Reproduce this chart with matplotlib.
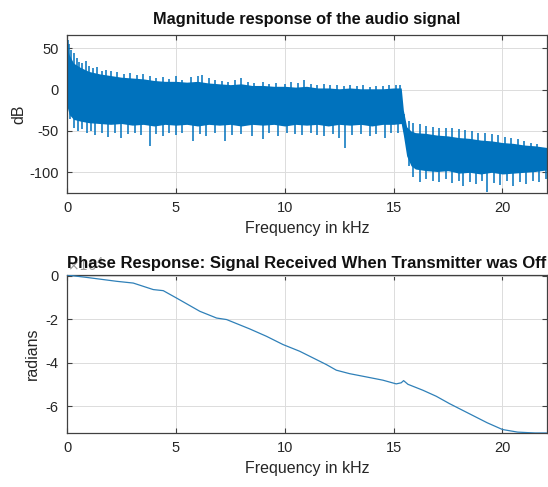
import numpy as np
import matplotlib
matplotlib.use("Agg")
import matplotlib.pyplot as plt
from matplotlib.ticker import FuncFormatter

plt.rcParams['font.family'] = ['Liberation Sans', 'DejaVu Sans']
plt.rcParams['axes.unicode_minus'] = False

# ---------------- data ----------------
# Magnitude response: dense band (core) plus visible spikes
core_f   = [0, 0.1, 0.3, 0.6, 1, 1.5, 2, 2.5, 3, 3.5, 4, 4.5, 5, 5.5, 6, 6.5, 7,
            7.5, 8, 8.5, 9, 9.5, 10, 10.5, 11, 11.5, 12, 12.5, 13, 13.5, 14,
            14.5, 15, 15.35, 15.45, 15.6, 15.8, 16.0, 16.5, 17, 17.5, 18, 18.5,
            19, 19.5, 20, 20.5, 21, 21.5, 22.05]
core_top = [52, 42, 32, 27, 22, 19, 17, 15, 14, 13, 11, 10, 10, 9, 10, 8, 7,
            6, 7, 5, 5, 4, 4, 3, 4, 2, 2, 1, 2, 1, 1,
            1, 2, 2, -25, -45, -50, -52, -53, -55, -56, -58, -59,
            -61, -62, -64, -65, -67, -68, -70]
core_bot = [-20, -30, -36, -38, -40, -41, -42, -41, -43, -42, -44, -42, -43,
            -42, -44, -42, -43, -42, -44, -42, -43, -42, -44, -42, -43, -42,
            -44, -42, -43, -42, -44, -42, -42, -41, -55, -80, -92, -96, -98,
            -99, -98, -101, -100, -102, -100, -102, -101, -100, -99, -97]

up_f = [0.02, 0.05, 0.1, 0.2, 0.3, 0.45, 0.55, 0.7, 0.85, 1.0,
        1.2, 1.4, 1.6, 1.8, 2.0, 2.3, 2.6, 2.9, 3.2, 3.5, 3.8, 4.1, 4.4, 4.7, 5.0,
        5.3, 5.7, 6.0, 6.2, 6.5, 6.8, 7.1, 7.4, 7.7, 8.0, 8.3, 8.6, 9.0, 9.3, 9.6, 10.0,
        10.3, 10.6, 10.9, 11.2, 11.5, 11.8, 12.1, 12.4, 12.7, 13.0, 13.3, 13.6, 13.9,
        14.2, 14.5, 14.8, 15.1, 15.3,
        15.5, 15.7, 15.9, 16.2, 16.5, 16.8, 17.1, 17.4, 17.7, 18.0, 18.3, 18.6, 18.9,
        19.2, 19.5, 19.8, 20.1, 20.4, 20.7, 21.0, 21.3, 21.6, 21.9]
up_v = [66, 60, 55, 48, 44, 38, 33, 32, 34, 28,
        26, 27, 23, 24, 22, 21, 19, 20, 18, 19, 16, 14, 15, 13, 16,
        12, 15, 17, 18, 14, 12, 11, 9, 12, 14, 9, 8, 9, 7, 8, 7,
        9, 8, 12, 7, 6, 7, 5, 6, 4, 5, 4, 5, 3,
        4, 4, 5, 6, 5,
        -30, -38, -40, -42, -44, -45, -46, -47, -46, -48, -49, -50, -52,
        -52, -54, -55, -57, -58, -60, -62, -64, -66, -70]

dn_f = [0.15, 0.3, 0.5, 0.7, 0.9, 1.1, 1.3, 1.6, 1.9, 2.2, 2.5, 2.8, 3.1, 3.4, 3.8,
        4.1, 4.4, 4.7, 5.0,
        5.3, 5.8, 6.1, 6.4, 6.8, 7.25, 7.6, 8.0, 8.5, 9.0, 9.3, 9.7, 10.1, 10.45,
        10.8, 11.2, 11.5, 11.8, 12.2, 12.5, 12.75, 13.1, 13.5, 13.9, 14.2, 14.6,
        14.9, 15.2,
        15.7, 15.9, 16.2, 16.5, 16.8, 17.1, 17.4, 17.7, 18.0, 18.2, 18.5, 18.8,
        19.05, 19.3, 19.6, 19.9, 20.2, 20.5, 20.8, 21.1, 21.4, 21.7, 22.0]
dn_v = [-35, -46, -50, -48, -53, -50, -55, -52, -57, -52, -58, -54, -52, -55, -68,
        -54, -56, -52, -55,
        -53, -62, -54, -56, -53, -62, -55, -54, -56, -60, -53, -56, -52, -54,
        -55, -53, -55, -56, -54, -58, -70, -55, -54, -56, -54, -58,
        -53, -52,
        -92, -106, -112, -108, -110, -112, -108, -113, -110, -117, -112, -114,
        -110, -124, -113, -115, -111, -116, -112, -114, -110, -112, -108]

# Phase response (radians)
phase_f = [0, 0.06, 0.9, 2.28, 3.04, 3.96, 4.42, 5.03, 6.1, 6.87, 7.33, 8.39,
           9.16, 9.92, 10.69, 11.45, 11.91, 12.37, 12.98, 13.75, 14.51, 15.12,
           15.35, 15.46, 15.66, 16.34, 16.96, 17.57, 18.1, 19.3, 20.0, 20.7, 21.5,
           22.05]
phase = [300, 200, -800, -2600, -3400, -6400, -6900, -10300, -16400, -19500,
         -20200, -24500, -27900, -31700, -34800, -38600, -40900, -43500, -45100,
         -46600, -48100, -49800, -49300, -48300, -50000, -52700, -55500, -58900,
         -61600, -67700, -70800, -72000, -72400, -72400]

freq_ticks = [0, 5, 10, 15, 20]
mag_ticks = [-100, -50, 0, 50]
phase_ticks = [-60000, -40000, -20000, 0]
phase_scale = 1e4

# ---------------- figure ----------------
BLUE = '#0072BD'
AXC = '#404040'
TXT = '#262626'

fig = plt.figure(figsize=(5.48, 4.87), dpi=100)
ax1 = fig.add_axes([0.1223, 0.6037, 0.876, 0.3244])
ax2 = fig.add_axes([0.1223, 0.1109, 0.876, 0.3244])

def style(ax):
    ax.grid(True, color='#dcdcdc', linewidth=0.7)
    ax.set_axisbelow(True)
    for s in ax.spines.values():
        s.set_color(AXC)
        s.set_linewidth(0.9)
    ax.tick_params(direction='in', top=True, right=True, length=3.5,
                   color=AXC, labelcolor=TXT, labelsize=10.5, pad=6)
    ax.set_xlim(0, 22.05)
    ax.set_xticks(freq_ticks)
    ax.set_xlabel('Frequency in kHz', fontsize=11.5, color=TXT, labelpad=4)

# --- magnitude ---
ax1.fill_between(core_f, core_bot, core_top, color=BLUE, linewidth=0, zorder=2)
mid = (np.array(core_top) + np.array(core_bot)) / 2.0
ax1.vlines(up_f, np.interp(up_f, core_f, mid), up_v, color=BLUE, linewidth=1.1,
           zorder=2)
ax1.vlines(dn_f, np.interp(dn_f, core_f, mid), dn_v, color=BLUE, linewidth=1.1,
           zorder=2)
style(ax1)
ax1.set_ylim(-125, 66)
ax1.set_yticks(mag_ticks)
ax1.set_ylabel('dB', fontsize=11.5, color=TXT, labelpad=2)
ax1.set_title('Magnitude response of the audio signal', fontsize=11.8,
              fontweight='bold', color='#111111', y=1.0, pad=8)

# --- phase ---
ax2.plot(phase_f, phase, color='#2f80b8', linewidth=0.9, zorder=3)
style(ax2)
ax2.set_ylim(-72400, 300)
ax2.set_yticks(phase_ticks)
ax2.yaxis.set_major_formatter(FuncFormatter(lambda v, p: '%g' % (v / phase_scale)))
ax2.text(0.0, 1.005, r'$\times10^{4}$', transform=ax2.transAxes, ha='left',
         va='bottom', fontsize=10, color='#9a9a9a', zorder=1)
ax2.set_ylabel('radians', fontsize=11.5, color=TXT, labelpad=4)
ax2.set_title('Phase Response: Signal Received When Transmitter was Off',
              fontsize=12, fontweight='bold', color='#111111', y=1.0, pad=5,
              zorder=10)

fig.savefig('out.png', dpi=100)
